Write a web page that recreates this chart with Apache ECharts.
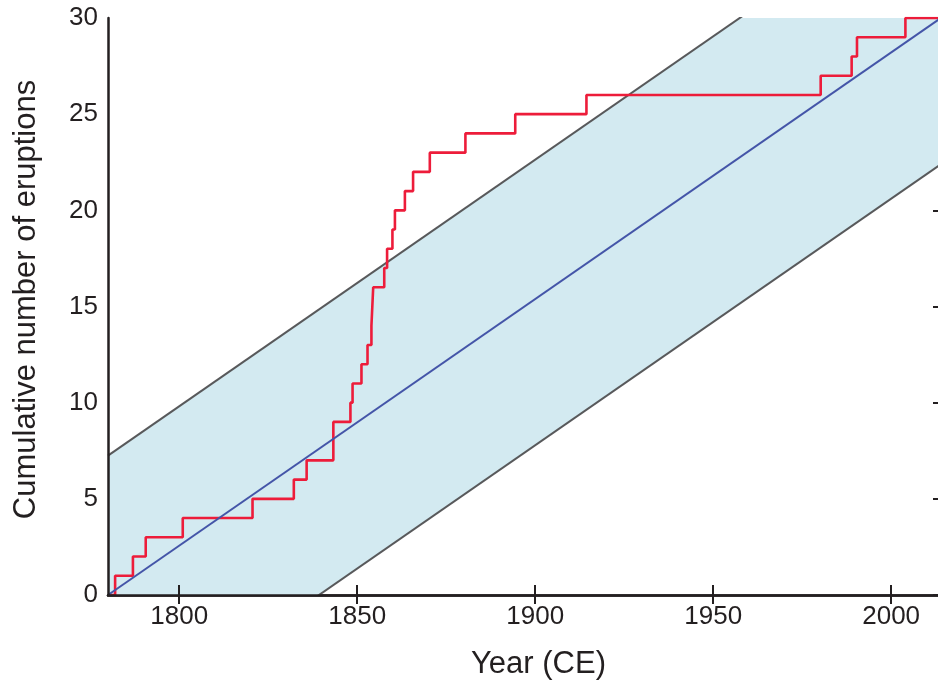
<!DOCTYPE html>
<html>
<head>
<meta charset="utf-8">
<script src="https://cdn.jsdelivr.net/npm/echarts@6/dist/echarts.min.js"></script>
<style>
  html, body { margin: 0; padding: 0; background: #fff; }
  #chart { width: 938px; height: 682px; }
</style>
</head>
<body>
<div id="chart"></div>
<script>
// steps of the eruption record: year of each step and running count after it
const eruptionYears = [1780, 1782, 1787, 1790.6, 1801, 1820.6, 1832.2, 1835.8, 1843.3, 1848.1, 1848.7,
  1851.2, 1852.9, 1854.0, 1854.5, 1857.6, 1858.4, 1859.9, 1860.6, 1863.4, 1865.7, 1870.4, 1880.4,
  1894.4, 1914.4, 1980.2, 1988.9, 1990.4, 2004.0, 2014];
const cumulativeCounts = [0, 1, 2, 3, 4, 5, 6, 7, 9, 10, 11, 12, 13, 14, 16, 17, 18, 19, 20, 21, 22,
  23, 24, 25, 26, 27, 28, 29, 30, 30];

// mean rate line and its envelope (end points)
const trendYears = [1780, 2014];
const trendCounts = [0, 30];
const upperCounts = [7.25, 37.25];
const lowerCounts = [-7.6, 22.4];

const yearTicks = [1800, 1850, 1900, 1950, 2000];

const ink = '#231f20';
const font = "'Liberation Sans', Arial, sans-serif";

const zip = (xs, ys) => xs.map((x, i) => [x, ys[i]]);

const chart = echarts.init(document.getElementById('chart'));

const option = {
  animation: false,
  grid: { left: 108, right: -3, top: 18, bottom: 87, outerBoundsMode: 'none' },
  xAxis: [
    {
      type: 'value',
      min: 1780,
      max: 2014,
      z: 10,
      splitLine: { show: false },
      axisLine: { lineStyle: { color: ink, width: 2.5 } },
      axisTick: { inside: true, length: 10, customValues: yearTicks, lineStyle: { color: ink, width: 2 } },
      axisLabel: {
        customValues: yearTicks,
        formatter: (v) => String(v),
        color: ink, fontSize: 26, fontFamily: font, margin: 9
      },
      name: 'Year (CE)',
      nameLocation: 'middle',
      nameGap: 54,
      nameTextStyle: { color: ink, fontSize: 31, fontFamily: font, padding: [0, 0, 0, 28] }
    },
    {
      // top frame, sits under the shading like in the original
      type: 'value',
      position: 'top',
      min: 1780,
      max: 2014,
      z: 0,
      splitLine: { show: false },
      axisLine: { lineStyle: { color: ink, width: 2.5 } },
      axisTick: { inside: true, length: 9, customValues: yearTicks, lineStyle: { color: ink, width: 2 } },
      axisLabel: { show: false }
    }
  ],
  yAxis: [
    {
      type: 'value',
      min: 0,
      max: 30,
      interval: 5,
      z: 10,
      splitLine: { show: false },
      axisLine: { show: true, lineStyle: { color: ink, width: 2.5 } },
      axisTick: { show: false },
      axisLabel: { color: ink, fontSize: 26, fontFamily: font, margin: 10 },
      name: 'Cumulative number of eruptions',
      nameLocation: 'middle',
      nameGap: 66,
      nameTextStyle: { color: ink, fontSize: 31, fontFamily: font, padding: [0, 0, 0, 14] }
    },
    {
      type: 'value',
      position: 'right',
      min: 0,
      max: 30,
      interval: 5,
      z: 0,
      splitLine: { show: false },
      axisLine: { show: true, lineStyle: { color: ink, width: 2.5 } },
      axisTick: { show: true, inside: true, length: 8, lineStyle: { color: ink, width: 2 } },
      axisLabel: { show: false }
    }
  ],
  series: [
    {
      // shaded envelope between the two grey lines
      type: 'custom',
      silent: true,
      clip: true,
      z: 1,
      data: [zip(trendYears, trendCounts)[0]],
      renderItem: (params, api) => {
        const top = trendYears.map((yr, i) => api.coord([yr, upperCounts[i]]));
        const bottom = trendYears.map((yr, i) => api.coord([yr, lowerCounts[i]])).reverse();
        const cs = params.coordSys;
        return {
          type: 'polygon',
          shape: { points: top.concat(bottom) },
          style: { fill: '#d3eaf1' },
          clipPath: { type: 'rect', shape: { x: cs.x, y: cs.y, width: cs.width, height: cs.height } }
        };
      }
    },
    {
      type: 'line',
      data: zip(trendYears, upperCounts),
      symbol: 'none',
      z: 2,
      lineStyle: { color: '#58595b', width: 2 }
    },
    {
      type: 'line',
      data: zip(trendYears, lowerCounts),
      symbol: 'none',
      z: 2,
      lineStyle: { color: '#58595b', width: 2 }
    },
    {
      type: 'line',
      data: zip(eruptionYears, cumulativeCounts),
      step: 'end',
      symbol: 'none',
      z: 3,
      lineStyle: { color: '#ed1c3a', width: 2.6 }
    },
    {
      type: 'line',
      data: zip(trendYears, trendCounts),
      symbol: 'none',
      z: 4,
      lineStyle: { color: '#4455a8', width: 2 }
    }
  ]
};

chart.setOption(option);
</script>
</body>
</html>
